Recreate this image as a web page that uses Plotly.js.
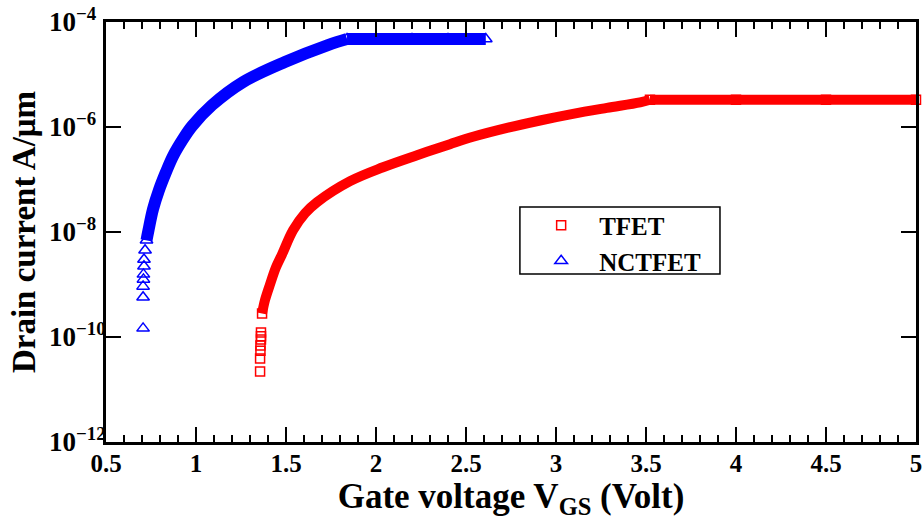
<!DOCTYPE html>
<html>
<head>
<meta charset="utf-8">
<script src="https://cdn.plot.ly/plotly-3.0.1.min.js"></script>
<style>html,body{margin:0;padding:0;background:#fff;}#chart{width:922px;height:520px;}</style>
</head>
<body>
<div id="chart"></div>
<script>
// TFET: gate voltage (V) and drain current (A/um)
const tfetVgs = [1.356, 1.356, 1.358, 1.358, 1.361, 1.361, 1.361, 1.367, 1.383, 1.411, 1.444, 1.478, 1.539, 1.606, 1.672, 1.856, 2.039, 2.228, 2.411, 2.539, 2.728, 2.911, 3.094, 3.283, 3.467, 3.522, 4.0, 4.5, 5.0];
const tfetId  = [2.2e-11, 3.9e-11, 5.5e-11, 6.9e-11, 9.0e-11, 1.03e-10, 1.22e-10, 2.8e-10, 5.0e-10, 1.0e-9, 2.12e-9, 3.76e-9, 1.08e-8, 2.28e-8, 3.69e-8, 9.3e-8, 1.71e-7, 2.9e-7, 4.71e-7, 6.5e-7, 9.6e-7, 1.33e-6, 1.78e-6, 2.31e-6, 2.94e-6, 3.3e-6, 3.3e-6, 3.3e-6, 3.3e-6];
const tfetDenseFrom = 7;   // markers overlap into a solid band from here
const tfetFlatFrom = 25;   // saturation plateau starts here

// NCTFET
const nctVgs = [0.706, 0.706, 0.706, 0.708, 0.708, 0.711, 0.711, 0.717, 0.725, 0.736, 0.761, 0.794, 0.833, 0.872, 0.928, 0.978, 1.089, 1.261, 1.494, 1.733, 1.839, 2.0, 2.2, 2.4, 2.61];
const nctId  = [1.46e-10, 5.7e-10, 9.2e-10, 1.25e-9, 1.56e-9, 2.22e-9, 3.0e-9, 4.48e-9, 6.95e-9, 1.08e-8, 2.71e-8, 6.25e-8, 1.38e-7, 2.78e-7, 5.9e-7, 1.04e-6, 2.61e-6, 7.18e-6, 1.73e-5, 3.64e-5, 4.74e-5, 4.74e-5, 4.74e-5, 4.74e-5, 4.74e-5];
const nctDenseFrom = 8;
const nctFlatFrom = 20;

const yTickVals = [1e-12, 1e-10, 1e-8, 1e-6, 1e-4];
const yTickText = ['10<sup>\u221212</sup>', '10<sup>\u221210</sup>', '10<sup>\u22128\u2007</sup>', '10<sup>\u22126\u2007</sup>', '10<sup>\u22124\u2007</sup>'];

const RED = '#ff0000', BLUE = '#0000ff';
const FONT = '"Liberation Serif", "Times New Roman", serif';
const SQ = {symbol: 'square-open', size: 9, color: RED, line: {width: 1.5, color: RED}};
const TRI = {symbol: 'triangle-up-open', size: 11, color: BLUE, line: {width: 1.5, color: BLUE}};

const traces = [
  {x: tfetVgs.slice(tfetDenseFrom, tfetFlatFrom + 1), y: tfetId.slice(tfetDenseFrom, tfetFlatFrom + 1), mode: 'lines',
   line: {color: RED, width: 10, shape: 'spline', smoothing: 1}, showlegend: false, hoverinfo: 'skip', cliponaxis: false},
  {x: tfetVgs.slice(tfetFlatFrom), y: tfetId.slice(tfetFlatFrom), mode: 'lines+markers', marker: SQ,
   line: {color: RED, width: 10}, showlegend: false, hoverinfo: 'skip', cliponaxis: false},
  {x: nctVgs.slice(nctDenseFrom, nctFlatFrom + 1), y: nctId.slice(nctDenseFrom, nctFlatFrom + 1), mode: 'lines',
   line: {color: BLUE, width: 12, shape: 'spline', smoothing: 1}, showlegend: false, hoverinfo: 'skip', cliponaxis: false},
  {x: nctVgs.slice(nctFlatFrom), y: nctId.slice(nctFlatFrom), mode: 'lines+markers', marker: TRI,
   line: {color: BLUE, width: 12}, showlegend: false, hoverinfo: 'skip', cliponaxis: false},
  {x: tfetVgs.slice(0, tfetDenseFrom + 1), y: tfetId.slice(0, tfetDenseFrom + 1), name: 'TFET', mode: 'markers', cliponaxis: false, marker: SQ},
  {x: nctVgs.slice(0, nctDenseFrom + 1), y: nctId.slice(0, nctDenseFrom + 1), name: 'NCTFET', mode: 'markers', cliponaxis: false, marker: TRI}
];

const layout = {
  width: 922, height: 520,
  margin: {l: 106, r: 6, t: 22, b: 78},
  paper_bgcolor: '#fff', plot_bgcolor: '#fff',
  font: {family: FONT, color: '#000', weight: 'bold'},
  showlegend: true,
  legend: {x: 0.515, y: 0.570, xanchor: 'left', yanchor: 'top', bgcolor: 'rgba(0,0,0,0)', borderwidth: 0,
           itemwidth: 66, font: {family: FONT, size: 25, color: '#000', weight: 'bold'}},
  xaxis: {
    type: 'linear', range: [0.5, 5], tick0: 0.5, dtick: 0.5,
    showgrid: false, zeroline: false, showline: true, linecolor: '#000', linewidth: 3, mirror: 'ticks',
    ticks: 'inside', ticklen: 15, tickwidth: 2.5, tickcolor: '#000', ticklabelstandoff: -3, ticklabeloverflow: 'allow',
    minor: {dtick: 0.1, ticks: 'inside', ticklen: 7, tickwidth: 2, tickcolor: '#000', showgrid: false},
    tickfont: {family: FONT, size: 25, color: '#000', weight: 'bold'},
    title: {text: 'Gate voltage V<sub>GS</sub> (Volt)', font: {family: FONT, size: 35, color: '#000', weight: 'bold'}, standoff: 0}
  },
  yaxis: {
    type: 'log', range: [-12, -4], tickvals: yTickVals, ticktext: yTickText,
    showgrid: false, zeroline: false, showline: true, linecolor: '#000', linewidth: 3, mirror: 'ticks',
    ticks: 'inside', ticklen: 15, tickwidth: 2.5, tickcolor: '#000', ticklabelstandoff: -8,
    tickfont: {family: FONT, size: 27, color: '#000', weight: 'bold'},
    title: {text: 'Drain current A/\u03bcm', font: {family: FONT, size: 33, color: '#000', weight: 'bold'}, standoff: 4}
  },
  shapes: [
    {type: 'rect', xref: 'paper', yref: 'paper', x0: 0.511, x1: 0.758, y0: 0.40, y1: 0.5595,
     line: {color: '#000', width: 1.5}, fillcolor: 'rgba(0,0,0,0)', layer: 'below'}
  ]
};

Plotly.newPlot('chart', traces, layout, {staticPlot: true, displayModeBar: false});
</script>
</body>
</html>
